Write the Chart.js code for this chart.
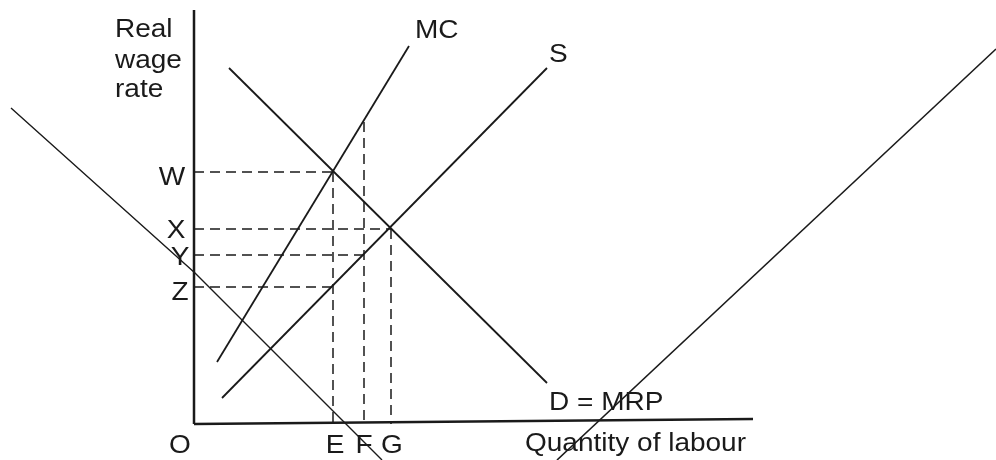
<!DOCTYPE html>
<html lang="en">
<head>
  <meta charset="UTF-8" />
  <title>Labour market diagram</title>
  <script src="https://cdn.jsdelivr.net/npm/chart.js"></script>
  <style>
    html, body { margin: 0; padding: 0; background: #fff; }
    #diagram { display: block; }
  </style>
</head>
<body>
  <canvas id="diagram" width="996" height="460"></canvas>

  <script>
    // values measured from the origin O (quantity of labour, real wage)
    const yAxisLine = [{x: 0, y: 414}, {x: 0, y: 0}];
    const xAxisLine = [{x: 0, y: 0}, {x: 559, y: 5}];
    const mcCurve = [{x: 23, y: 62}, {x: 215, y: 378}];
    const supplyCurve = [{x: 28, y: 26}, {x: 353, y: 356}];
    const demandCurve = [{x: 35, y: 356}, {x: 353, y: 41}];
    const strayLeft = [{x: -183, y: 316}, {x: 1, y: 151}, {x: 148, y: 4}, {x: 188, y: -36}];
    const strayRight = [{x: 363, y: -36}, {x: 802, y: 375}];

    // wage levels and quantities
    const wageLevels = {W: 252, X: 195, Y: 169, Z: 137};
    const quantities = {E: 139, F: 170, G: 197};
    const fTop = 302;

    const guideLines = [
      [{x: 0, y: wageLevels.W}, {x: quantities.E, y: wageLevels.W}],
      [{x: quantities.E, y: wageLevels.W}, {x: quantities.E, y: 0}],
      [{x: 0, y: wageLevels.X}, {x: quantities.G, y: wageLevels.X}],
      [{x: quantities.G, y: wageLevels.X}, {x: quantities.G, y: 0}],
      [{x: 0, y: wageLevels.Y}, {x: quantities.F, y: wageLevels.Y}],
      [{x: quantities.F, y: fTop}, {x: quantities.F, y: 0}],
      [{x: 0, y: wageLevels.Z}, {x: quantities.E, y: wageLevels.Z}]
    ];

    // text labels: [text, x, y (baseline), align]
    const textLabels = [
      ['Real', -79, 387, 'left'],
      ['wage', -79, 356, 'left'],
      ['rate', -79, 327, 'left'],
      ['MC', 221, 386, 'left'],
      ['S', 355, 362, 'left'],
      ['W', -22, 239, 'center'],
      ['X', -18, 186, 'center'],
      ['Y', -14, 159, 'center'],
      ['Z', -14, 124, 'center'],
      ['O', -14, -29, 'center'],
      ['E', 141, -29, 'center'],
      ['F', 170, -29, 'center'],
      ['G', 198, -29, 'center'],
      ['D = MRP', 355, 14, 'left'],
      ['Quantity of labour', 331, -27, 'left']
    ];

    const ink = '#1a1a1a';

    function solid(data, width) {
      return {data: data, showLine: true, borderColor: ink, borderWidth: width,
              pointRadius: 0, tension: 0, fill: false};
    }

    const datasets = [
      solid(yAxisLine, 2.5),
      solid(xAxisLine, 2.5),
      solid(mcCurve, 1.8),
      solid(supplyCurve, 1.8),
      solid(demandCurve, 1.8),
      solid(strayLeft, 1.4),
      solid(strayRight, 1.6)
    ];
    guideLines.forEach(g => {
      datasets.push({data: g, showLine: true, borderColor: ink, borderWidth: 1.5,
                     borderDash: [10, 6], pointRadius: 0, fill: false});
    });

    const labelPlugin = {
      id: 'labels',
      afterDatasetsDraw(chart) {
        const ctx = chart.ctx;
        const sx = chart.scales.x, sy = chart.scales.y;
        const stretch = 1.12;
        ctx.save();
        ctx.fillStyle = ink;
        ctx.font = '25px "Liberation Sans", Arial, sans-serif';
        ctx.textBaseline = 'alphabetic';
        textLabels.forEach(([txt, x, y, align]) => {
          const px = sx.getPixelForValue(x);
          const py = sy.getPixelForValue(y);
          const w = ctx.measureText(txt).width * stretch;
          let left = px;
          if (align === 'center') left = px - w / 2;
          ctx.save();
          ctx.translate(left, py);
          ctx.scale(stretch, 1);
          ctx.textAlign = 'left';
          ctx.fillText(txt, 0, 0);
          ctx.restore();
        });
        ctx.restore();
      }
    };

    new Chart(document.getElementById('diagram'), {
      type: 'scatter',
      data: {datasets: datasets},
      options: {
        responsive: false,
        animation: false,
        layout: {padding: 0},
        plugins: {legend: {display: false}, tooltip: {enabled: false}},
        scales: {
          x: {type: 'linear', min: -194, max: 802, display: false},
          y: {type: 'linear', min: -36, max: 424, display: false}
        }
      },
      plugins: [labelPlugin]
    });
  </script>
</body>
</html>
